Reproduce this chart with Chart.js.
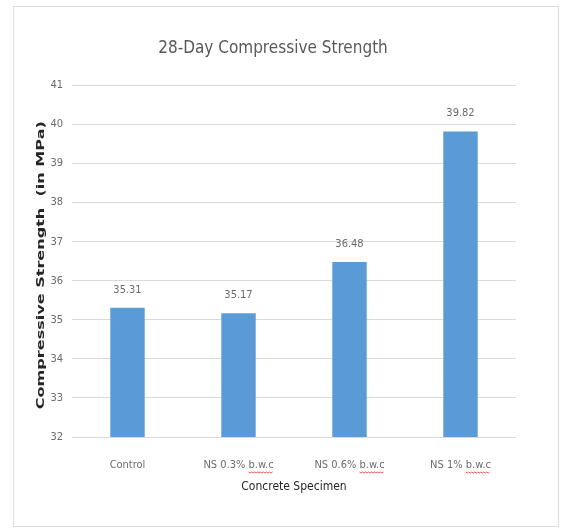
<!DOCTYPE html>
<html>
<head>
<meta charset="utf-8">
<script src="https://cdn.jsdelivr.net/npm/chart.js@4/dist/chart.umd.min.js"></script>
<style>
  html, body { margin: 0; padding: 0; background: #ffffff; }
  #frame {
    position: absolute; left: 13px; top: 6px;
    width: 546px; height: 521px;
    border: 1px solid #dcdcdc; box-sizing: border-box;
  }
  #wrap { position: absolute; left: 0; top: 0; width: 561px; height: 531px; }
</style>
</head>
<body>
<div id="frame"></div>
<div id="wrap"><canvas id="c" width="561" height="531"></canvas></div>
<script>
// Specimen groups and their 28-day strength (MPa)
const categories = ['Control', 'NS 0.3% b.w.c', 'NS 0.6% b.w.c', 'NS 1% b.w.c'];
const strengths = [35.31, 35.17, 36.48, 39.82];
const yTicks = [32, 33, 34, 35, 36, 37, 38, 39, 40, 41];
const yTitle = 'Compressive Strength  (in MPa)';

const FONT = "'DejaVu Sans Condensed', 'DejaVu Sans', sans-serif";
const TICK_FONT = '11px ' + FONT;

// Writes each bar's value just above it
const valueLabels = {
  id: 'valueLabels',
  afterDatasetsDraw(chart) {
    const ctx = chart.ctx;
    const meta = chart.getDatasetMeta(0);
    ctx.save();
    ctx.font = TICK_FONT;
    ctx.fillStyle = '#6b6b6b';
    ctx.textAlign = 'center';
    ctx.textBaseline = 'middle';
    meta.data.forEach((bar, i) => {
      ctx.fillText(strengths[i].toFixed(2), bar.x, bar.y - 18);
    });
    ctx.restore();
  }
};

// Red proofing squiggle under the "b.w.c" abbreviation in the category names
const proofMarks = {
  id: 'proofMarks',
  afterDraw(chart) {
    const ctx = chart.ctx;
    const xs = chart.scales.x;
    const top = chart.chartArea.bottom + 22;
    ctx.save();
    ctx.font = TICK_FONT;
    ctx.strokeStyle = 'rgba(220,40,40,0.75)';
    ctx.lineWidth = 1;
    categories.forEach((name, i) => {
      const k = name.indexOf('b.w.c');
      if (k < 0) return;
      const full = ctx.measureText(name).width;
      const tail = ctx.measureText(name.slice(k)).width;
      const cx = xs.getPixelForTick(i);
      const x1 = cx + full / 2 - tail;
      const x2 = cx + full / 2;
      const y = top + 13;
      ctx.beginPath();
      for (let x = x1, up = true; x <= x2; x += 1.5, up = !up) {
        const yy = up ? y : y + 1;
        if (x === x1) ctx.moveTo(x, yy); else ctx.lineTo(x, yy);
      }
      ctx.stroke();
    });
    ctx.restore();
  }
};

// Vertical axis caption, bold and stretched along its length
const sideTitle = {
  id: 'sideTitle',
  afterDraw(chart) {
    const ctx = chart.ctx;
    const area = chart.chartArea;
    const cy = (area.top + area.bottom) / 2 + 4;
    ctx.save();
    ctx.font = "bold 10px 'DejaVu Sans', sans-serif";
    ctx.fillStyle = '#262626';
    ctx.textAlign = 'center';
    ctx.textBaseline = 'middle';
    ctx.translate(41, cy);
    ctx.rotate(-Math.PI / 2);
    const w = ctx.measureText(yTitle).width;
    ctx.scale(288 / w, 1);
    ctx.fillText(yTitle, 0, 0);
    ctx.restore();
  }
};

new Chart(document.getElementById('c'), {
  type: 'bar',
  data: {
    labels: categories,
    datasets: [{
      data: strengths,
      backgroundColor: '#5b9bd5',
      borderWidth: 0,
      categoryPercentage: 1.0,
      barPercentage: 0.31
    }]
  },
  options: {
    responsive: false,
    animation: false,
    devicePixelRatio: 1,
    layout: { padding: { left: 30, right: 45, top: 26, bottom: 37 } },
    plugins: {
      legend: { display: false },
      tooltip: { enabled: false },
      title: {
        display: true,
        text: '28-Day Compressive Strength',
        color: '#595959',
        font: { family: FONT, size: 17, weight: 'normal' },
        padding: { top: 12, bottom: 27 }
      }
    },
    scales: {
      x: {
        afterFit(scale) { scale.height = 57; },
        grid: { display: false, drawTicks: false },
        border: { display: false },
        ticks: { color: '#6b6b6b', font: { family: FONT, size: 11 }, padding: 22 },
        title: {
          display: true,
          text: 'Concrete Specimen',
          color: '#262626',
          font: { family: FONT, size: 12 },
          padding: { top: 6, bottom: 0 }
        }
      },
      y: {
        min: 32,
        max: 41,
        afterBuildTicks(scale) { scale.ticks = yTicks.map(v => ({ value: v })); },
        afterFit(scale) { scale.width = 42; },
        grid: { color: '#d9d9d9', drawTicks: false },
        border: { display: false },
        ticks: { color: '#6b6b6b', font: { family: FONT, size: 11 }, padding: 9 }
      }
    }
  },
  plugins: [valueLabels, proofMarks, sideTitle]
});
</script>
</body>
</html>
